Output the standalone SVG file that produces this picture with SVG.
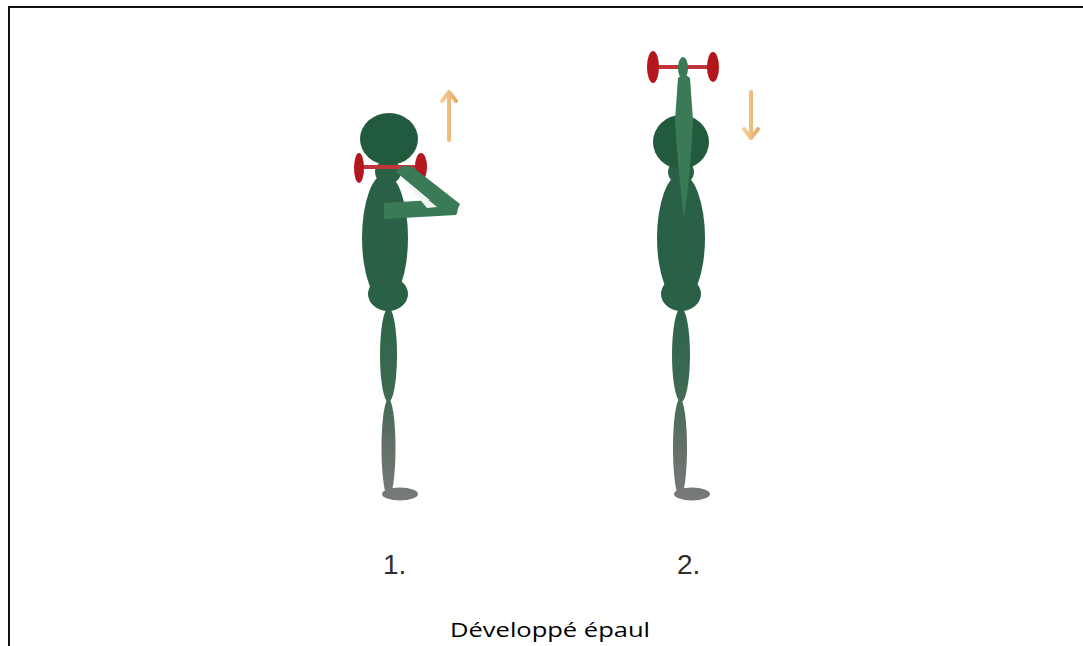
<svg xmlns="http://www.w3.org/2000/svg" width="1083" height="646" viewBox="0 0 1083 646">
  <defs>
    <linearGradient id="legGrad" gradientUnits="userSpaceOnUse" x1="0" y1="300" x2="0" y2="500">
      <stop offset="0" stop-color="#2b6346"/>
      <stop offset="0.45" stop-color="#3d6a51"/>
      <stop offset="0.7" stop-color="#5f6f66"/>
      <stop offset="1" stop-color="#787a78"/>
    </linearGradient>
    <linearGradient id="arrowGrad" x1="0" y1="0" x2="1" y2="0">
      <stop offset="0" stop-color="#f6cf95"/>
      <stop offset="1" stop-color="#e6a968"/>
    </linearGradient>
    <filter id="soft" x="-10%" y="-10%" width="120%" height="120%">
      <feGaussianBlur stdDeviation="0.6"/>
    </filter>
  </defs>
  <style>
    .body { fill: #2a6144; }
    .head { fill: #245a3c; }
    .arm { fill: #3b7a56; }
    .leg { fill: url(#legGrad); }
    .plate { fill: #b3161b; }
    .bar { stroke: #c0353a; stroke-width: 4; }
    .arrow { fill: none; stroke: url(#arrowGrad); stroke-width: 4; stroke-linecap: round; stroke-linejoin: round; }
    .num { font-family: "Liberation Sans", Arial, sans-serif; font-size: 28px; fill: #2e2e2e; }
    .caption { font-family: "Open Sans", "Liberation Sans", sans-serif; font-size: 20px; fill: #000; }
  </style>

  <rect width="1083" height="646" fill="#fff"/>

  <!-- frame: top and left edges -->
  <g id="frame" stroke="#111" stroke-width="2" fill="none">
    <line x1="9" y1="7" x2="1083" y2="7"/>
    <line x1="9" y1="6" x2="9" y2="646"/>
  </g>

  <!-- figure 1: dumbbell at shoulder height -->
  <g id="figure1" filter="url(#soft)">
    <g id="legs1" class="leg">
      <ellipse cx="388.5" cy="355" rx="8.5" ry="47"/>
      <ellipse cx="388.5" cy="448" rx="7" ry="49"/>
      <ellipse cx="400" cy="494" rx="18" ry="6.5"/>
    </g>
    <ellipse class="body" cx="388" cy="294" rx="20" ry="17"/>
    <ellipse class="body" cx="385" cy="238" rx="23" ry="64"/>
    <ellipse class="body" cx="388" cy="172" rx="13" ry="12"/>
    <g id="dumbbell1">
      <line class="bar" x1="358" y1="167" x2="422" y2="167"/>
      <ellipse class="plate" cx="359" cy="168" rx="5" ry="15"/>
      <ellipse class="plate" cx="421" cy="167" rx="6" ry="14"/>
    </g>
    <ellipse class="head" cx="389" cy="139" rx="29" ry="26"/>
    <g id="arm1" class="arm">
      <path d="M384 203 L448 199 Q462 205 456 215 L384 219 Z"/>
      <path d="M396 172 Q402 162 414 168 L460 204 Q456 216 444 212 Z"/>
    </g>
    <path d="M401 177 L437 207 L427 208 Z" fill="#f2f4f2"/>
  </g>
  <g id="arrowUp">
    <path class="arrow" d="M449 140 L449 92 M442 101 L449 92 L456 101"/>
  </g>

  <!-- figure 2: dumbbell pressed overhead -->
  <g id="figure2" filter="url(#soft)">
    <g id="legs2" class="leg">
      <ellipse cx="681" cy="355" rx="9" ry="47"/>
      <ellipse cx="680" cy="448" rx="7" ry="49"/>
      <ellipse cx="692" cy="494" rx="18" ry="6.5"/>
    </g>
    <ellipse class="body" cx="681" cy="294" rx="20" ry="17"/>
    <ellipse class="body" cx="681" cy="238" rx="24" ry="64"/>
    <ellipse class="body" cx="681" cy="172" rx="13" ry="12"/>
    <ellipse class="head" cx="681" cy="142" rx="28" ry="27"/>
    <g id="dumbbell2">
      <line class="bar" x1="652" y1="67" x2="713" y2="67"/>
      <ellipse class="plate" cx="653" cy="67" rx="6" ry="16"/>
      <ellipse class="plate" cx="713" cy="67" rx="6" ry="15"/>
    </g>
    <g id="arm2" class="arm">
      <ellipse cx="683" cy="68" rx="5" ry="11"/>
      <path d="M678 78 Q684 72 690 78 L693 120 Q691 170 684 218 Q678 170 675 120 Z"/>
    </g>
  </g>
  <g id="arrowDown">
    <path class="arrow" d="M751 92 L751 138 M744 129 L751 138 L758 129"/>
  </g>

  <!-- step labels -->
  <text id="label1" class="num" x="383" y="574">1.</text>
  <text id="label2" class="num" x="677" y="574">2.</text>

  <!-- caption -->
  <text id="caption" class="caption" x="450" y="637" textLength="200" lengthAdjust="spacingAndGlyphs">Développé épaul</text>
</svg>
